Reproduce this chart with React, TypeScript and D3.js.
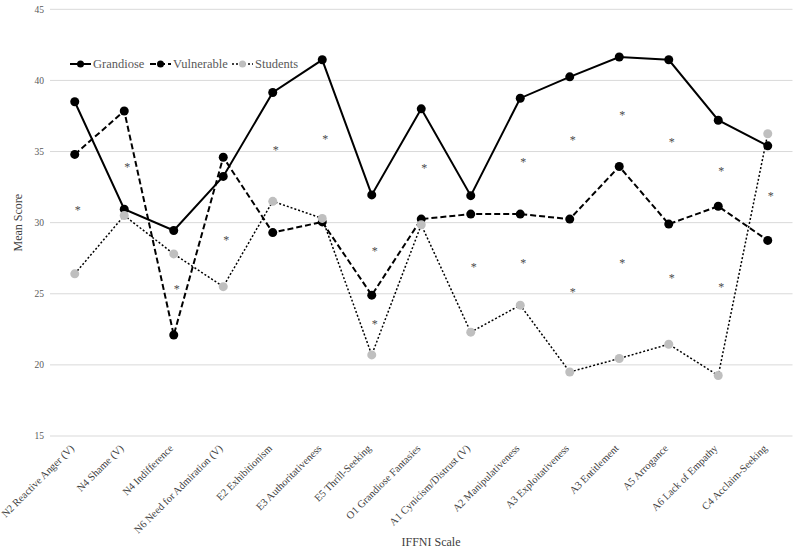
import * as d3 from "d3";
import React from "react";

const categories = [
  "N2 Reactive Anger (V)",
  "N4 Shame (V)",
  "N4 Indifference",
  "N6 Need for Admiration (V)",
  "E2 Exhibitionism",
  "E3 Authoritativeness",
  "E5 Thrill-Seeking",
  "O1 Grandiose Fantasies",
  "A1 Cynicism/Distrust (V)",
  "A2 Manipulativeness",
  "A3 Exploitativeness",
  "A3 Entitlement",
  "A5 Arrogance",
  "A6 Lack of Empathy",
  "C4 Acclaim-Seeking",
];

const grandiose = [38.5, 30.95, 29.45, 33.25, 39.15, 41.45, 31.95, 38.0, 31.9, 38.75, 40.25, 41.65, 41.45, 37.2, 35.4];
const vulnerable = [34.8, 37.85, 22.1, 34.6, 29.3, 30.05, 24.9, 30.25, 30.6, 30.6, 30.25, 33.95, 29.9, 31.15, 28.75];
const students = [26.4, 30.5, 27.8, 25.5, 31.5, 30.3, 20.7, 29.85, 22.3, 24.2, 19.5, 20.45, 21.45, 19.25, 36.25];

// significance markers: [category index, value]
const stars: [number, number][] = [
  [0, 31.1],
  [1, 34.15],
  [2, 25.6],
  [3, 29.05],
  [4, 35.35],
  [5, 36.1],
  [6, 28.25],
  [6, 23.15],
  [7, 34.1],
  [8, 27.1],
  [9, 34.5],
  [9, 27.4],
  [10, 36.05],
  [10, 25.35],
  [11, 37.8],
  [11, 27.4],
  [12, 35.9],
  [12, 26.35],
  [13, 33.9],
  [13, 25.7],
  [14, 32.1],
];

const yTicks = [15, 20, 25, 30, 35, 40, 45];

const W = 800;
const H = 553;
const plot = { left: 50, right: 792.5, top: 9.3, bottom: 436 };
const FONT = "Liberation Serif, Times New Roman, serif";

export default function App() {
  const x = d3.scalePoint<string>().domain(categories).range([plot.left, plot.right]).padding(0.5);
  const y = d3.scaleLinear().domain([15, 45]).range([plot.bottom, plot.top]);

  const line = d3
    .line<number>()
    .x((_, i) => x(categories[i]) ?? 0)
    .y((d) => y(d));

  const series = [
    { name: "Grandiose", data: grandiose, dash: "none", width: 2, marker: "#000", lx: 70 },
    { name: "Vulnerable", data: vulnerable, dash: "6,3", width: 2, marker: "#000", lx: 150 },
    { name: "Students", data: students, dash: "2,2", width: 1.5, marker: "#bfbfbf", lx: 232 },
  ];

  return (
    <div style={{ position: "absolute", left: 0, top: 0 }}>
      <svg width={W} height={H} style={{ display: "block", background: "#fff", fontFamily: FONT }}>
        {yTicks.map((t) => (
          <g key={t}>
            <line x1={plot.left} x2={plot.right} y1={y(t)} y2={y(t)} stroke="#d9d9d9" strokeWidth={1} />
            <text x={44} y={y(t)} dy="0.35em" textAnchor="end" fontSize={9.5} fill="#595959">
              {t}
            </text>
          </g>
        ))}

        {series.map((s) => (
          <path
            key={s.name}
            d={line(s.data) ?? ""}
            fill="none"
            stroke="#000"
            strokeWidth={s.width}
            strokeDasharray={s.dash}
          />
        ))}
        {series.map((s) =>
          s.data.map((v, i) => (
            <circle key={s.name + i} cx={x(categories[i])} cy={y(v)} r={4.5} fill={s.marker} />
          ))
        )}

        {stars.map(([i, v], k) => (
          <text
            key={k}
            x={(x(categories[i]) ?? 0) + 3}
            y={y(v)}
            dy="0.62em"
            textAnchor="middle"
            fontSize={12}
            fill="#4a4a4a"
          >
            *
          </text>
        ))}

        {/* legend */}
        {series.map((s) => (
          <g key={"lg" + s.name}>
            <line
              x1={s.lx}
              x2={s.lx + 21}
              y1={64}
              y2={64}
              stroke="#000"
              strokeWidth={s.width}
              strokeDasharray={s.dash}
            />
            <circle cx={s.lx + 10.5} cy={64} r={3.5} fill={s.marker} />
            <text x={s.lx + 23} y={64} dy="0.35em" fontSize={12.5} fill="#595959">
              {s.name}
            </text>
          </g>
        ))}

        {categories.map((c) => (
          <text
            key={c}
            transform={`translate(${(x(c) ?? 0)},${449}) rotate(-45)`}
            textAnchor="end"
            fontSize={10.5}
            fill="#404040"
          >
            {c}
          </text>
        ))}

        <text
          transform={`translate(22,${(plot.top + plot.bottom) / 2}) rotate(-90)`}
          textAnchor="middle"
          fontSize={12}
          fill="#404040"
        >
          Mean Score
        </text>
        <text x={431} y={546} textAnchor="middle" fontSize={12} fill="#404040">
          IFFNI Scale
        </text>
      </svg>
    </div>
  );
}
